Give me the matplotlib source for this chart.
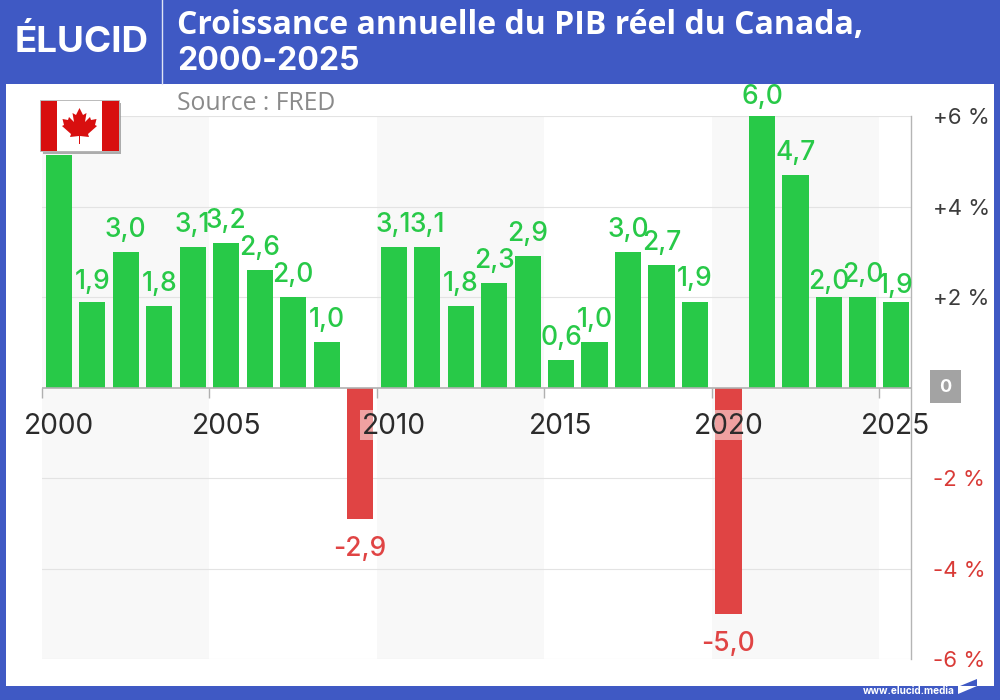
import matplotlib
matplotlib.use("Agg")
import matplotlib.pyplot as plt
from matplotlib.patches import Rectangle, Polygon

plt.rcParams["font.family"] = ["Inter", "DejaVu Sans"]

# Real GDP growth, percent per year
years = list(range(2000, 2026))
growth = [5.14, 1.9, 3.0, 1.8, 3.1, 3.2, 2.6, 2.0, 1.0, -2.9,
          3.1, 3.1, 1.8, 2.3, 2.9, 0.6, 1.0, 3.0, 2.7, 1.9,
          -5.0, 6.0, 4.7, 2.0, 2.0, 1.9]
decade_ticks = [2000, 2005, 2010, 2015, 2020, 2025]
axis_levels = [6, 4, 2, -2, -4, -6]
title_lines = ["Croissance annuelle du PIB réel du Canada,", "2000-2025"]
source_text = "Source : FRED"

BLUE = "#3f59c4"
GREEN = "#28c948"
RED = "#e04444"
W, H = 1000, 700

fig = plt.figure(figsize=(W / 100, H / 100), dpi=100, facecolor="white")


def pixel_axes(zorder):
    ax = fig.add_axes([0, 0, 1, 1], zorder=zorder)
    ax.set_xlim(0, W)
    ax.set_ylim(H, 0)
    ax.axis("off")
    return ax


# Page frame, header and footer
back = pixel_axes(0)
back.add_patch(Rectangle((0, 0), W, 84, color=BLUE, lw=0))
back.add_patch(Rectangle((0, 0), 6, H, color=BLUE, lw=0))
back.add_patch(Rectangle((994, 0), 6, H, color=BLUE, lw=0))
back.add_patch(Rectangle((0, 686), W, 14, color=BLUE, lw=0))
back.plot([162, 162], [0, 84], color="#dfe4f5", lw=1)
back.text(15, 42, "ÉLUCID", color="white", fontsize=26.5, fontweight="bold",
          va="center", ha="left")
back.text(177, 25, title_lines[0], color="white", fontsize=23, fontweight="bold",
          va="center", ha="left", family=["Open Sans", "DejaVu Sans"])
back.text(177, 62, title_lines[1], color="white", fontsize=23, fontweight="bold",
          va="center", ha="left")
back.text(177, 103, source_text, color="#8a8a8a", fontsize=17.8,
          va="center", ha="left", family=["Open Sans", "DejaVu Sans"])
back.text(955, 691, "www.elucid.media", color="white", fontsize=7.2,
          fontweight="bold", va="center", ha="right")
back.add_patch(Polygon([(960, 686), (977, 679), (977, 686)], color=BLUE, lw=0))
back.add_patch(Polygon([(958, 686), (977, 686), (958, 694)], color="white", lw=0))

# Chart area: one unit on x is a year, with bars centred on their year
left, right, top, bottom = 42, 911, 116, 659
ax = fig.add_axes([left / W, 1 - bottom / H, (right - left) / W, (bottom - top) / H],
                  zorder=1)
ax.patch.set_alpha(0)
ax.set_xlim(1999.5, 2025.45)
ax.set_ylim(-6, 6)
for s in ("top", "left", "bottom"):
    ax.spines[s].set_visible(False)
ax.spines["right"].set_color("#b5b5b5")
ax.spines["right"].set_linewidth(1)

edges = [y - 0.5 for y in decade_ticks]
for a, b in zip(edges[0::2], edges[1::2]):
    ax.axvspan(a, b, color="#f8f8f8", lw=0, zorder=0)
for level in axis_levels:
    ax.axhline(level, color="#e3e3e3", lw=0.8, zorder=0.5)
ax.axhline(0, color="#b0b0b0", lw=1.2, zorder=4)

BAR_WIDTH = 0.78
colors = [GREEN if v >= 0 else RED for v in growth]
ax.bar(years, growth, width=BAR_WIDTH, color=colors, zorder=2)

# Ticks sit at the start of each labelled year
ax.set_xticks(edges)
ax.set_xticklabels([])
ax.set_yticks([])
ax.xaxis.set_ticks_position("bottom")
ax.spines["bottom"].set_position(("data", 0))
ax.tick_params(axis="x", length=7, width=1, color="#b0b0b0", direction="out")

# Year labels, with a pale strip where one crosses a negative bar
for year in decade_ticks:
    ax.annotate(str(year), (year, 0), xytext=(0, -28), textcoords="offset points",
                ha="center", va="center", fontsize=20.3, color="#2b2b2b", zorder=5)
    for bar_year, value in zip(years, growth):
        if value < 0:
            x0 = max(bar_year - BAR_WIDTH / 2, year - 1.0)
            x1 = min(bar_year + BAR_WIDTH / 2, year + 1.0)
            if x1 > x0:
                ax.add_patch(Rectangle((x0, -1.16), x1 - x0, 0.66, color="white",
                                       alpha=0.5, lw=0, zorder=3))

# Closely packed late years get their labels pulled nearer the bar
label_drop = {2001: 2, 2021: 2, 2023: 5, 2025: 5}
for year, value in zip(years, growth):
    text = f"{value:.1f}".replace(".", ",")
    offset = 6.5 - label_drop.get(year, 0) if value >= 0 else -12.5
    ax.annotate(text, (year, value), xytext=(0, offset), textcoords="offset points",
                ha="center", va="bottom" if value >= 0 else "top",
                fontsize=19, fontweight="medium", zorder=6,
                color=GREEN if value >= 0 else RED)

for level in axis_levels:
    sign = "+" if level > 0 else "-"
    ax.annotate(f"{sign}{abs(level)} %", (1, level), xycoords=("axes fraction", "data"),
                xytext=(16, -1.5), textcoords="offset points", ha="left", va="center",
                fontsize=16, annotation_clip=False,
                color="#3c3c3c" if level > 0 else "#d93a36")

# Flag and zero marker drawn over the chart
front = pixel_axes(2)
front.add_patch(Rectangle((930, 370), 31, 33, color="#a3a3a3", lw=0))
front.text(945.5, 387, "0", color="white", fontsize=13, fontweight="bold",
           ha="center", va="center")

front.add_patch(Rectangle((43, 103), 78, 51, color="#8c8c8c", alpha=0.7, lw=0))
front.add_patch(Rectangle((40, 100), 79, 51, fc="white", ec="#b0b0b0", lw=0.6))
front.add_patch(Rectangle((40.5, 100.5), 16.5, 50, color="#d80f0f", lw=0))
front.add_patch(Rectangle((102, 100.5), 16.5, 50, color="#d80f0f", lw=0))
leaf = [(79.5, 108), (83, 115), (86.5, 113), (85, 122), (90, 117), (91, 120),
        (96.5, 119), (95, 125), (97, 126), (88, 134), (89, 137), (80, 136),
        (80, 144), (79, 144), (79, 136), (70, 137), (71, 134), (62, 126),
        (64, 125), (62.5, 119), (68, 120), (69, 117), (74, 122), (72.5, 113),
        (76, 115)]
front.add_patch(Polygon(leaf, color="#d80f0f", lw=0))

fig.savefig("out.png", dpi=100, facecolor="white")
